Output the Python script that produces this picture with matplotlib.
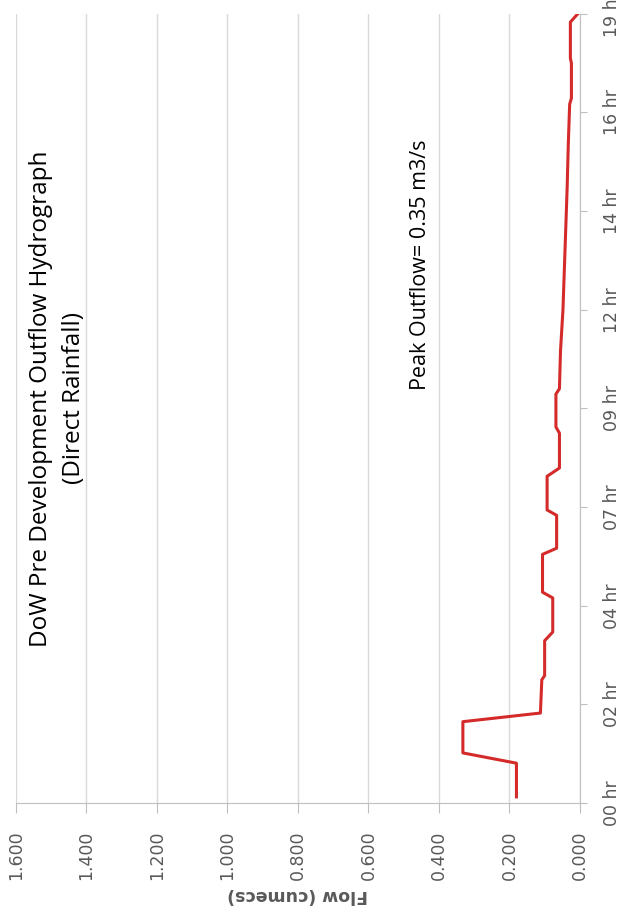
import matplotlib
matplotlib.use("Agg")
import matplotlib.pyplot as plt
import numpy as np

# hydrograph (time in hours, flow in cumecs)
hours = [0.15, 0.97, 1.22, 1.98, 2.19, 3.0, 3.1, 3.95, 4.16, 4.99, 5.13, 6.05,
         6.2, 7.0, 7.13, 7.95, 8.15, 9.0, 9.15, 9.95, 10.08, 11.0, 12.0, 13.0,
         14.0, 15.0, 16.0, 17.0, 17.15, 18.0, 18.12, 19.0, 19.2]
flow = [0.180, 0.180, 0.332, 0.332, 0.112, 0.108, 0.100, 0.100, 0.077, 0.077,
        0.106, 0.106, 0.066, 0.066, 0.093, 0.093, 0.058, 0.058, 0.068, 0.068,
        0.058, 0.055, 0.048, 0.044, 0.040, 0.036, 0.033, 0.029, 0.024, 0.024,
        0.027, 0.027, 0.006]

time_ticks = [0, 2.4, 4.8, 7.2, 9.6, 12.0, 14.4, 16.8, 19.2]
time_labels = ["00 hr", "02 hr", "04 hr", "07 hr", "09 hr", "12 hr", "14 hr", "16 hr", "19 hr"]
flow_ticks = [0, 0.2, 0.4, 0.6, 0.8, 1.0, 1.2, 1.4, 1.6]

fnt = ["Open Sans", "DejaVu Sans"]
tickfnt = ["DejaVu Sans"]
txtcol = "#595959"

fig = plt.figure(figsize=(6.35, 9.22), dpi=100)
ax = fig.add_axes([0.0252, 0.129, 0.888, 0.856])

ax.plot(flow, hours, color="#d42a2a", lw=2.2, solid_joinstyle="round")

# chart is turned on its side: flow runs right-to-left, time upward
ax.set_xlim(1.6, 0)
ax.set_ylim(0, 19.2)

ax.set_xticks(flow_ticks)
ax.set_xticklabels(["%.3f" % v for v in flow_ticks], rotation=90,
                   fontsize=12.5, color=txtcol, family=tickfnt)
ax.yaxis.tick_right()
ax.set_yticks(time_ticks)
ax.set_yticklabels(time_labels, rotation=90, va="center",
                   fontsize=12.5, color=txtcol, family=tickfnt)

ax.tick_params(axis="x", length=7, color="#bfbfbf", pad=13)
ax.tick_params(axis="y", length=5, color="#bfbfbf", pad=12)

ax.grid(axis="x", color="#d9d9d9", lw=1)
ax.set_axisbelow(True)
for s in ["left", "top"]:
    ax.spines[s].set_visible(False)
for s in ["right", "bottom"]:
    ax.spines[s].set_color("#bfbfbf")

ax.set_xlabel("Flow (cumecs)", rotation=180, fontsize=12.5, fontweight="bold",
              color=txtcol, family=tickfnt, labelpad=4)

fig.text(0.0905, 0.568, "DoW Pre Development Outflow Hydrograph\n(Direct Rainfall)",
         rotation=90, ha="center", va="center", multialignment="center",
         fontsize=17.5, family=fnt, color="#000000", linespacing=1.5)
fig.text(0.662, 0.713, "Peak Outflow= 0.35 m3/s", rotation=90, ha="center",
         va="center", fontsize=15.5, family=fnt, color="#000000")

fig.savefig("out.png", dpi=100)
